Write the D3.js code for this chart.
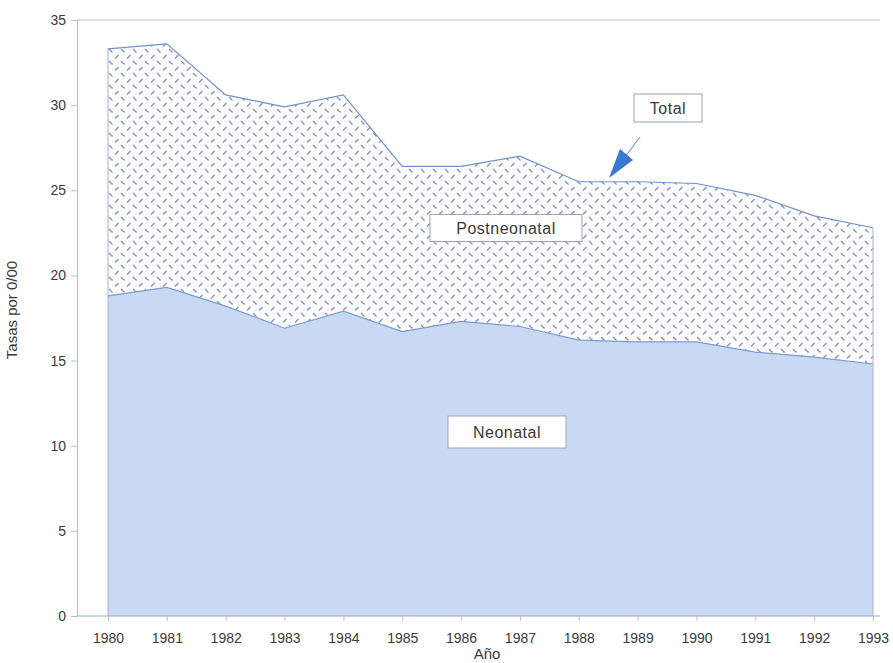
<!DOCTYPE html>
<html>
<head>
<meta charset="utf-8">
<script src="https://cdn.jsdelivr.net/npm/d3@7"></script>
<style>
  body { margin: 0; background: #fff; }
  svg text { font-family: "Liberation Sans", Arial, sans-serif; fill: #3a3a3a; }
</style>
</head>
<body>
<svg id="chart" width="893" height="663"></svg>
<script>
const years = [1980, 1981, 1982, 1983, 1984, 1985, 1986, 1987, 1988, 1989, 1990, 1991, 1992, 1993];
const total = [33.3, 33.6, 30.6, 29.9, 30.6, 26.4, 26.4, 27.0, 25.5, 25.5, 25.4, 24.7, 23.5, 22.8];
const neonatal = [18.8, 19.3, 18.2, 16.9, 17.9, 16.7, 17.3, 17.0, 16.2, 16.1, 16.1, 15.5, 15.2, 14.8];
const yTicks = [0, 5, 10, 15, 20, 25, 30, 35];

const svg = d3.select("#chart");
const margin = { left: 77, top: 20, bottom: 616 };

const x = d3.scaleLinear().domain([1980, 1993]).range([108, 873]);
const y = d3.scaleLinear().domain([0, 35]).range([margin.bottom, margin.top]);

// diamond plate style pattern for postneonatal
const defs = svg.append("defs");
const pat = defs.append("pattern")
   .attr("id", "plate")
   .attr("patternUnits", "userSpaceOnUse")
   .attr("width", 12).attr("height", 12);
pat.append("rect").attr("width", 12).attr("height", 12).attr("fill", "#fdfdfe");
pat.append("line").attr("x1", 1).attr("y1", 1).attr("x2", 4.5).attr("y2", 4.5)
   .attr("stroke", "#7f8fc0").attr("stroke-width", 1.3);
pat.append("line").attr("x1", 7).attr("y1", 10.5).attr("x2", 10.5).attr("y2", 7)
   .attr("stroke", "#7f8fc0").attr("stroke-width", 1.3);

const rows = years.map((yr, i) => ({ year: yr, total: total[i], neo: neonatal[i] }));

// top frame line
svg.append("line")
   .attr("x1", margin.left).attr("x2", 880)
   .attr("y1", y(35)).attr("y2", y(35))
   .attr("stroke", "#b8bfd0").attr("stroke-width", 1);

// postneonatal (between neonatal and total)
svg.append("path")
   .datum(rows)
   .attr("fill", "url(#plate)")
   .attr("d", d3.area().x(d => x(d.year)).y0(d => y(d.neo)).y1(d => y(d.total)));

// neonatal
svg.append("path")
   .datum(rows)
   .attr("fill", "#c8daf1")
   .attr("d", d3.area().x(d => x(d.year)).y0(y(0)).y1(d => y(d.neo)));

// outlines
svg.append("path")
   .datum(rows)
   .attr("fill", "none")
   .attr("stroke", "#6f92cc")
   .attr("stroke-width", 1.2)
   .attr("d", d3.line().x(d => x(d.year)).y(d => y(d.total)));
svg.append("path")
   .datum(rows)
   .attr("fill", "none")
   .attr("stroke", "#7d9bd0")
   .attr("stroke-width", 1.2)
   .attr("d", d3.line().x(d => x(d.year)).y(d => y(d.neo)));

// side edges
[1980, 1993].forEach((yr, k) => {
   const v = k === 0 ? total[0] : total[total.length - 1];
   svg.append("line")
      .attr("x1", x(yr)).attr("x2", x(yr))
      .attr("y1", y(0)).attr("y2", y(v))
      .attr("stroke", "#a4b2d0").attr("stroke-width", 1);
});

// axes
const yAxis = svg.append("g")
   .attr("transform", `translate(${margin.left},0)`)
   .call(d3.axisLeft(y).tickValues(yTicks).tickSize(6).tickPadding(5));
yAxis.select(".domain").attr("stroke", "#b8bfd0");
yAxis.selectAll(".tick line").attr("stroke", "#b8bfd0");
yAxis.selectAll("text").style("font-size", "14px").attr("fill", "#3a3a3a");

const xAxis = svg.append("g")
   .attr("transform", `translate(0,${y(0)})`)
   .call(d3.axisBottom(x).tickValues(years).tickFormat(d3.format("d")).tickSize(5).tickPadding(12));
xAxis.select(".domain").attr("d", `M${margin.left},0H880`).attr("stroke", "#9aa9c8");
xAxis.selectAll(".tick line").attr("stroke", "#b8bfd0");
xAxis.selectAll("text").style("font-size", "14px").attr("fill", "#3a3a3a");

// axis titles
svg.append("text")
   .attr("transform", "translate(17,310) rotate(-90)")
   .attr("text-anchor", "middle")
   .style("font-size", "15px")
   .text("Tasas por 0/00");
svg.append("text")
   .attr("x", 487).attr("y", 659)
   .attr("text-anchor", "middle")
   .style("font-size", "15px")
   .text("Año");

// labels with boxes
function boxLabel(txt, cx, cy, w, h) {
   svg.append("rect")
      .attr("x", cx - w / 2).attr("y", cy - h / 2)
      .attr("width", w).attr("height", h)
      .attr("fill", "#fff").attr("stroke", "#9aa3b8").attr("stroke-width", 1);
   svg.append("text")
      .attr("x", cx).attr("y", cy + 6)
      .attr("text-anchor", "middle")
      .style("font-size", "16px")
      .style("letter-spacing", "0.5px")
      .text(txt);
}
boxLabel("Total", 668, 108, 68, 28);
boxLabel("Postneonatal", 506, 228, 152, 27);
boxLabel("Neonatal", 507, 432, 118, 32);

// arrow pointing to Total line
svg.append("line")
   .attr("x1", 640).attr("y1", 137).attr("x2", 625).attr("y2", 157)
   .attr("stroke", "#7d9bd0").attr("stroke-width", 1.2);
svg.append("path")
   .attr("d", "M609,178 L620,149 L633,160 Z")
   .attr("fill", "#3a78d4");
</script>
</body>
</html>
